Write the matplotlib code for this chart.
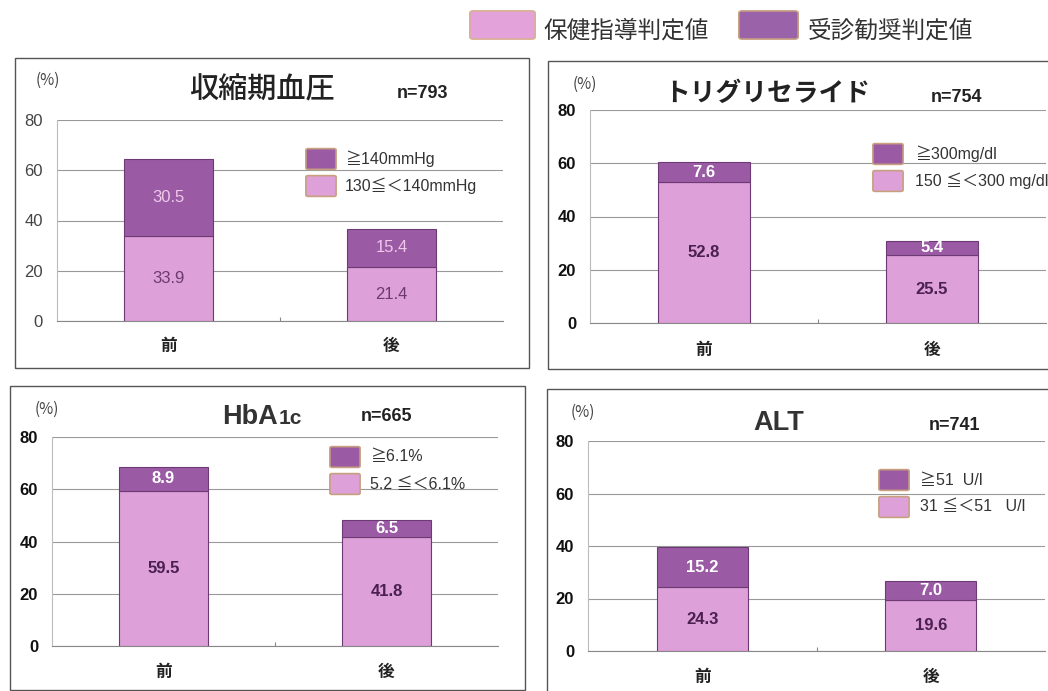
import matplotlib
matplotlib.use("Agg")
import matplotlib.pyplot as plt
from matplotlib.patches import Rectangle, FancyBboxPatch

plt.rcParams['font.family'] = ['Noto Sans CJK JP', 'DejaVu Sans']

W, H = 1048, 691

categories = ["前", "後"]

titles = ["収縮期血圧", "トリグリセライド", "HbA1c", "ALT"]
n_labels = ["n=793", "n=754", "n=665", "n=741"]

guidance_values = [[33.9, 21.4], [52.8, 25.5], [59.5, 41.8], [24.3, 19.6]]
referral_values = [[30.5, 15.4], [7.6, 5.4], [8.9, 6.5], [15.2, 7.0]]

legend_high = ["≧140mmHg", "≧300mg/dl", "≧6.1%", "≧51  U/l"]
legend_low = ["130≦＜140mmHg", "150 ≦＜300 mg/dl", "5.2 ≦＜6.1%", "31 ≦＜51   U/l"]

yticks = [0, 20, 40, 60, 80]
legend_top = ["保健指導判定値", "受診勧奨判定値"]

LIGHT = "#DDA0D8"
DARK = "#9A5BA4"
EDGE = "#6E3A75"
TXT_DARK = "#4A2050"
LAT = ['Liberation Sans', 'Noto Sans CJK JP']

fig = plt.figure(figsize=(W / 100, H / 100), dpi=100)


def fbox(x0, y0, x1, y1):
    return [x0 / W, 1 - y1 / H, (x1 - x0) / W, (y1 - y0) / H]


def ftxt(x, y, s, **kw):
    fig.text(x / W, 1 - y / H, s, **kw)


# panel frames (pixel coords)
frames = [(15, 58, 529, 368), (548, 61, 1060, 369), (10, 386, 525, 690), (547, 389, 1060, 700)]
axes_boxes = [(57, 120, 503, 321), (590, 110, 1046, 323), (52, 437, 498, 646), (588, 441, 1045, 651)]
title_pos = [(262, 90), (767, 93), (222, 415), (753, 420)]
n_pos = [(423, 93), (957, 98), (387, 417), (955, 425)]
pct_pos = [(48, 80), (585, 84), (47, 409), (583, 412)]
leg_pos = [(308, 150, 345), (875, 145, 915), (332, 448, 370), (881, 471, 920)]

for i in range(4):
    x0, y0, x1, y1 = frames[i]
    fig.patches.append(Rectangle((x0 / W, 1 - y1 / H), (x1 - x0) / W, (y1 - y0) / H,
                                 transform=fig.transFigure, fill=False,
                                 edgecolor="#555555", linewidth=1.0))
    ax = fig.add_axes(fbox(*axes_boxes[i]))
    ax.set_facecolor("white")
    xs = [0, 1]
    low = guidance_values[i]
    high = referral_values[i]
    ax.bar(xs, low, width=0.4, color=LIGHT, edgecolor=EDGE, linewidth=0.8, zorder=3)
    ax.bar(xs, high, width=0.4, bottom=low, color=DARK, edgecolor=EDGE, linewidth=0.8, zorder=3)
    for x, lv, hv in zip(xs, low, high):
        if i == 0:
            ax.text(x, lv / 2, f"{lv:.1f}", ha="center", va="center", fontsize=12,
                    color="#6A3A70", family=LAT, zorder=4)
            ax.text(x, lv + hv / 2, f"{hv:.1f}", ha="center", va="center", fontsize=12,
                    color="#F0C8EC", family=LAT, zorder=4)
        else:
            ax.text(x, lv / 2, f"{lv:.1f}", ha="center", va="center", fontsize=12,
                    color=TXT_DARK, family=LAT, fontweight="bold", zorder=4)
            ax.text(x, lv + hv / 2, f"{hv:.1f}", ha="center", va="center", fontsize=12,
                    color="white", family=LAT, fontweight="bold", zorder=4)
    ax.set_xlim(-0.5, 1.5)
    ax.set_ylim(0, 80)
    ax.set_yticks(yticks)
    ax.set_yticklabels([str(t) for t in yticks], family=LAT, fontsize=12,
                       color="#444444" if i == 0 else "#111111",
                       fontweight="normal" if i == 0 else "bold")
    ax.tick_params(axis="y", length=0, pad=10)
    ax.set_xticks([0.5])
    ax.set_xticklabels([""])
    ax.tick_params(axis="x", length=3, color="#888888", direction="in")
    for x, c in zip(xs, categories):
        ax.text(x, -10, c, ha="center", va="center", fontsize=12, fontweight="bold",
                color="#222222", clip_on=False)
    ax.grid(axis="y", color="#999999", linewidth=0.8, zorder=0)
    for s in ["top", "right"]:
        ax.spines[s].set_visible(False)
    ax.spines["left"].set_color("#bbbbbb")
    ax.spines["bottom"].set_color("#888888")

    # title
    tx, ty = title_pos[i]
    if i == 2:
        ftxt(tx, ty + 9, "HbA", fontsize=19.5, fontweight="bold", ha="left", va="baseline",
             family=LAT, color="#333333")
        ftxt(tx + 57, ty + 9, "1c", fontsize=15, fontweight="bold", ha="left", va="baseline",
             family=LAT, color="#333333")
    elif i == 3:
        ftxt(tx, ty + 10, titles[i], fontsize=19.5, fontweight="bold", ha="left", va="baseline",
             family=LAT, color="#333333")
    elif i == 0:
        ftxt(tx, ty, titles[i], fontsize=21, fontweight="medium", ha="center", va="center",
             color="#222222")
    else:
        ftxt(tx, ty, titles[i], fontsize=18.5, fontweight="bold", ha="center", va="center",
             color="#222222")
    nx, ny = n_pos[i]
    ftxt(nx, ny, n_labels[i], fontsize=13, fontweight="bold", ha="center", va="center",
         family=LAT, color="#222222")
    px, py = pct_pos[i]
    ftxt(px, py, "(%)", fontsize=11, ha="center", va="center", color="#444444")

    # panel legend
    lx, ly, ltx = leg_pos[i]
    for k, (col, lab) in enumerate([(DARK, legend_high[i]), (LIGHT, legend_low[i])]):
        yy = ly + k * 27
        fig.patches.append(FancyBboxPatch((lx / W, 1 - (yy + 18) / H), 26 / W, 18 / H,
                                          boxstyle="round,pad=0.002",
                                          transform=fig.transFigure, facecolor=col,
                                          edgecolor="#C8A080", linewidth=1.2))
        ftxt(ltx, yy + 9, lab, fontsize=11.5, ha="left", va="center", color="#333333",
             family=LAT)

# top legend
fig.patches.append(FancyBboxPatch((473 / W, 1 - 37 / H), 59 / W, 24 / H,
                                  boxstyle="round,pad=0.003", transform=fig.transFigure,
                                  facecolor="#E3A3DA", edgecolor="#D9B090", linewidth=1.2))
ftxt(543, 31, legend_top[0], fontsize=17, ha="left", va="center", color="#333333")
fig.patches.append(FancyBboxPatch((742 / W, 1 - 37 / H), 53 / W, 24 / H,
                                  boxstyle="round,pad=0.003", transform=fig.transFigure,
                                  facecolor="#9A62A8", edgecolor="#C8A080", linewidth=1.2))
ftxt(808, 31, legend_top[1], fontsize=17, ha="left", va="center", color="#333333")

fig.savefig("out.png", dpi=100, facecolor="white")
